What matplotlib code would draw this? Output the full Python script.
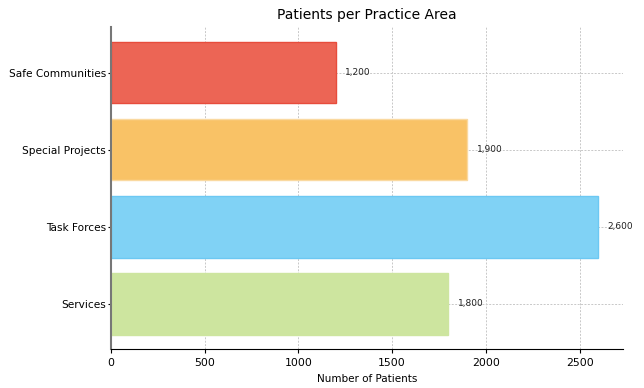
import matplotlib.pyplot as plt

areas = ["Services", "Task Forces", "Special Projects", "Safe Communities"]
patients = [1800, 2600, 1900, 1200]
fills = ["#cde59f", "#80d2f5", "#f9c266", "#ec6555"]
edges = ["#cde59f", "#6cc8f3", "#fad9a0", "#e74c3c"]

fig, ax = plt.subplots(figsize=(6.44, 3.88), dpi=100)
fig.subplots_adjust(left=0.172, right=0.967, top=0.930, bottom=0.100)

ax.barh(areas, patients, height=0.8, color=fills, edgecolor=edges, linewidth=1, zorder=2)

# value labels next to each bar
for i, value in enumerate(patients):
    ax.text(value + 50, i, f"{value:,}", va="center", ha="left", fontsize=6.5, color="#222222")

ax.set_title("Patients per Practice Area", fontsize=10)
ax.set_xlabel("Number of Patients", fontsize=7.5)
ax.tick_params(axis="x", labelsize=7.8, length=3)
ax.tick_params(axis="y", labelsize=7.6, length=2, pad=1.5)
ax.grid(True, linestyle=(0, (2, 1.5)), color="#c8c8c8", linewidth=0.7, zorder=0)
ax.set_axisbelow(True)

ax.spines["top"].set_visible(False)
ax.spines["right"].set_visible(False)
ax.spines["left"].set_color("#777777")
ax.spines["left"].set_linewidth(1.5)

fig.savefig("out.png")
